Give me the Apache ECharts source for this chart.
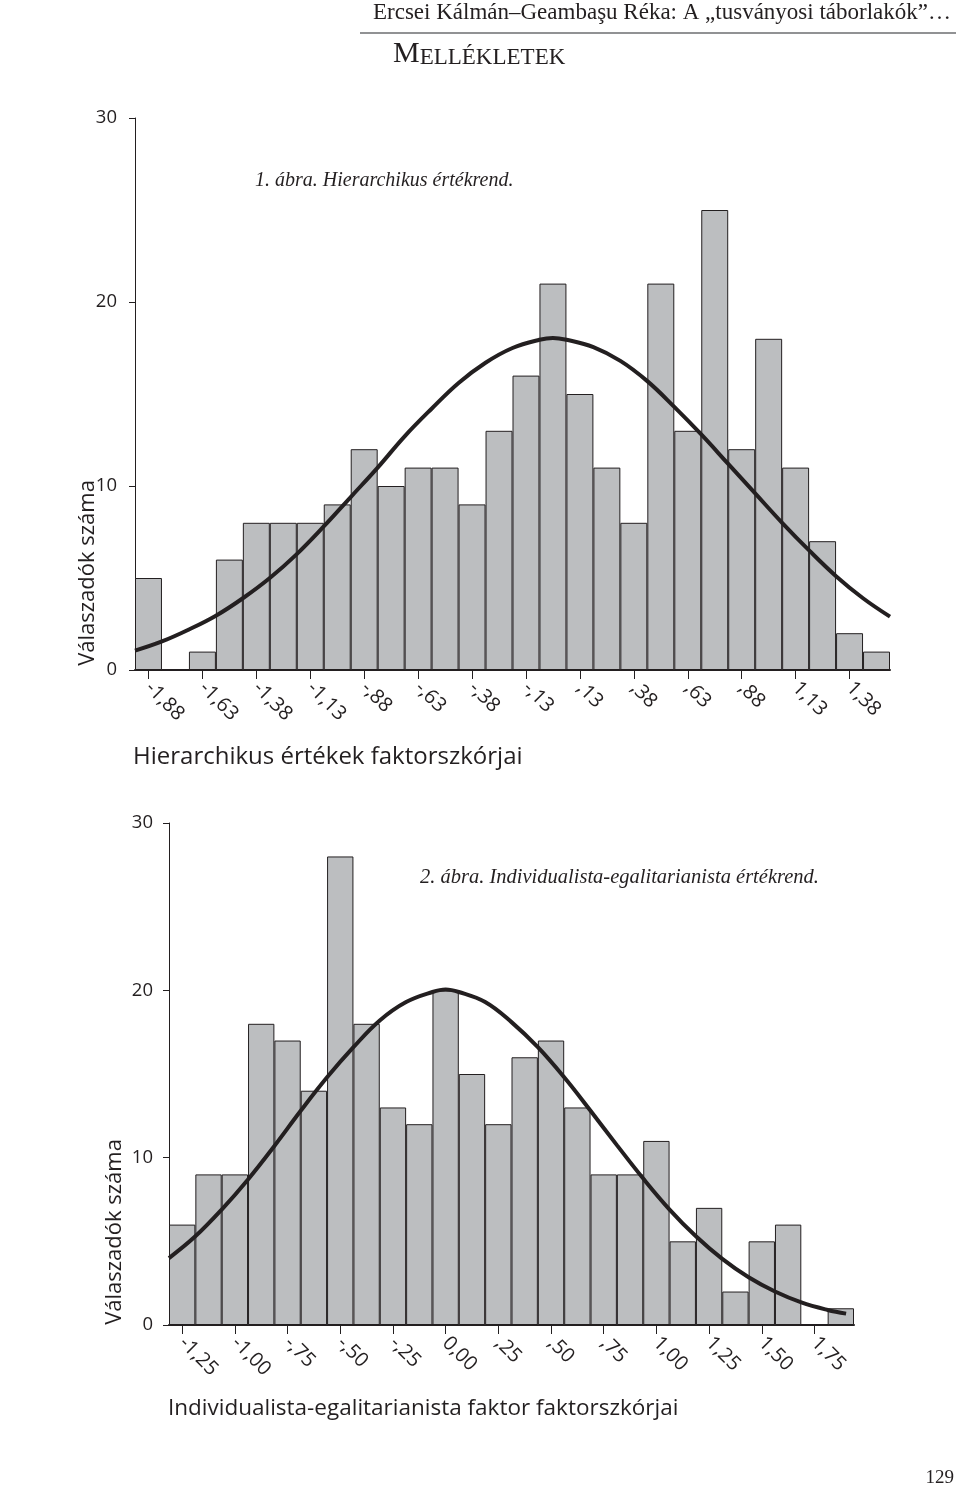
<!DOCTYPE html>
<html><head><meta charset="utf-8">
<script src="https://cdn.jsdelivr.net/npm/echarts@6/dist/echarts.min.js"></script>
<style>html,body{margin:0;padding:0;background:#fff}#c{width:960px;height:1493px}</style>
</head><body><div id="c"></div>
<script>
// ---- Figure 1: Hierarchikus értékrend ----
const hierBins = ['-1,88','-1,75','-1,63','-1,50','-1,38','-1,25','-1,13','-1,00','-,88','-,75','-,63','-,50','-,38','-,25','-,13',',00',',13',',25',',38',',50',',63',',75',',88','1,00','1,13','1,25','1,38','1,50'];
const hierCounts = [5,0,1,6,8,8,8,9,12,10,11,11,9,13,16,21,15,11,8,21,13,25,12,18,11,7,2,1];
const hierCurveX = [-1.9375,-1.8125,-1.6875,-1.5625,-1.4375,-1.3125,-1.1875,-1.0625,-0.9375,-0.8125,-0.6875,-0.5625,-0.4375,-0.3125,-0.1875,-0.0625,0,0.0625,0.1875,0.3125,0.4375,0.5625,0.6875,0.8125,0.9375,1.0625,1.1875,1.3125,1.4375,1.5625];
const hierCurveY = [1.05,1.55,2.2,2.95,3.9,5.0,6.3,7.8,9.4,11.0,12.7,14.2,15.6,16.7,17.5,17.95,18.05,17.95,17.55,16.8,15.7,14.3,12.8,11.2,9.6,8.0,6.5,5.1,3.9,2.9];

// ---- Figure 2: Individualista-egalitarianista értékrend ----
const indivBins = ['-1,25','-1,13','-1,00','-,88','-,75','-,63','-,50','-,38','-,25','-,13','0,00',',13',',25',',38',',50',',63',',75',',88','1,00','1,13','1,25','1,38','1,50','1,63','1,75','1,88'];
const indivCounts = [6,9,9,18,17,14,28,18,13,12,20,15,12,16,17,13,9,9,11,5,7,2,5,6,0,1];
const indivCurveX = [-1.3125,-1.1875,-1.0625,-0.9375,-0.8125,-0.6875,-0.5625,-0.4375,-0.3125,-0.1875,-0.0625,0,0.0625,0.1875,0.3125,0.4375,0.5625,0.6875,0.8125,0.9375,1.0625,1.1875,1.3125,1.4375,1.5625,1.6875,1.8125,1.9];
const indivCurveY = [4.0,5.3,6.9,8.7,10.7,12.8,14.8,16.6,18.2,19.3,19.9,20.05,19.9,19.3,18.1,16.6,14.8,12.8,10.75,8.75,6.9,5.3,3.95,2.85,2.0,1.35,0.9,0.68];

const INK = '#231f20';
const SANS = '"Open Sans", "Noto Sans", sans-serif';
const SERIF = '"Liberation Serif", "DejaVu Serif", serif';

function pairs(xs, ys){ return xs.map((x,i)=>[x, ys[i]]); }

function catAxis(grid, data){
  return {
    gridIndex: grid, type: 'category', data: data, boundaryGap: true,
    axisLine: {show: true, onZero: false, lineStyle: {color: INK, width: 2}},
    axisTick: {show: true, alignWithLabel: true, interval: 1, length: 9, lineStyle: {color: INK, width: 1}},
    axisLabel: {interval: 1, rotate: -45, margin: 15, fontSize: 20, fontFamily: SANS, color: INK},
    splitLine: {show: false}
  };
}
function valX(grid, min, max){
  return {gridIndex: grid, type: 'value', min: min, max: max, show: false,
          axisLine: {show: false, onZero: false}, axisTick: {show: false}, axisLabel: {show: false}, splitLine: {show: false}};
}
function valY(grid, margin){
  return {
    gridIndex: grid, type: 'value', min: 0, max: 30, interval: 10,
    axisLine: {show: true, onZero: false, lineStyle: {color: INK, width: 1}},
    axisTick: {show: true, length: 6, lineStyle: {color: INK, width: 1}},
    axisLabel: {margin: margin, fontSize: 18.5, fontFamily: SANS, color: INK},
    splitLine: {show: false}
  };
}

const option = {
  backgroundColor: '#ffffff',
  animation: false,
  grid: [
    {left: 135, top: 118, width: 755, height: 552},
    {left: 169, top: 823, width: 685, height: 502}
  ],
  xAxis: [
    catAxis(0, hierBins),
    valX(0, -1.9375, 1.5625),
    catAxis(1, indivBins),
    valX(1, -1.3125, 1.9375)
  ],
  yAxis: [ valY(0, 18), valY(1, 16) ],
  series: [
    {type: 'bar', xAxisIndex: 0, yAxisIndex: 0, data: hierCounts, barCategoryGap: 0, barGap: 0,
     itemStyle: {color: '#bcbec0', borderColor: INK, borderWidth: 1}, silent: true},
    {type: 'line', xAxisIndex: 1, yAxisIndex: 0, data: pairs(hierCurveX, hierCurveY), smooth: 0.4,
     showSymbol: false, lineStyle: {color: INK, width: 4}, silent: true, z: 5},
    {type: 'bar', xAxisIndex: 2, yAxisIndex: 1, data: indivCounts, barCategoryGap: 0, barGap: 0,
     itemStyle: {color: '#bcbec0', borderColor: INK, borderWidth: 1}, silent: true},
    {type: 'line', xAxisIndex: 3, yAxisIndex: 1, data: pairs(indivCurveX, indivCurveY), smooth: 0.4,
     showSymbol: false, lineStyle: {color: INK, width: 4}, silent: true, z: 5}
  ],
  graphic: [
    {type: 'text', x: 951, y: 13, style: {text: 'Ercsei Kálmán–Geambaşu Réka: A „tusványosi táborlakók”…', fontSize: 23, fontFamily: SERIF, fill: INK, textAlign: 'right', textVerticalAlign: 'middle'}},
    {type: 'line', shape: {x1: 360, y1: 33, x2: 956, y2: 33}, style: {stroke: '#6d6e71', lineWidth: 1.5}},
    {type: 'text', x: 393, y: 69, style: {text: '{a|M}{b|ELLÉKLETEK}', textVerticalAlign: 'bottom', fill: INK,
      rich: {a: {fontSize: 30, lineHeight: 30, fontFamily: SERIF, fill: INK, verticalAlign: 'bottom'},
             b: {fontSize: 23, lineHeight: 23, fontFamily: SERIF, fill: INK, verticalAlign: 'bottom'}}}},
    {type: 'text', x: 255, y: 181, style: {text: '1. ábra. Hierarchikus értékrend.', fontSize: 20, fontStyle: 'italic', fontFamily: SERIF, fill: INK, textVerticalAlign: 'middle'}},
    {type: 'text', x: 420, y: 878, style: {text: '2. ábra. Individualista-egalitarianista értékrend.', fontSize: 20.5, fontStyle: 'italic', fontFamily: SERIF, fill: INK, textVerticalAlign: 'middle'}},
    {type: 'text', x: 88, y: 573, rotation: Math.PI/2, style: {text: 'Válaszadók száma', fontSize: 22, fontFamily: SANS, fill: INK, textAlign: 'center', textVerticalAlign: 'middle'}},
    {type: 'text', x: 133, y: 757, style: {text: 'Hierarchikus értékek faktorszkórjai', fontSize: 24, fontFamily: SANS, fill: INK, textVerticalAlign: 'middle'}},
    {type: 'text', x: 115, y: 1232, rotation: Math.PI/2, style: {text: 'Válaszadók száma', fontSize: 22, fontFamily: SANS, fill: INK, textAlign: 'center', textVerticalAlign: 'middle'}},
    {type: 'text', x: 168, y: 1409, style: {text: 'Individualista-egalitarianista faktor faktorszkórjai', fontSize: 22.5, fontFamily: SANS, fill: INK, textVerticalAlign: 'middle'}},
    {type: 'text', x: 954, y: 1478, style: {text: '129', fontSize: 19, fontFamily: SERIF, fill: INK, textAlign: 'right', textVerticalAlign: 'middle'}}
  ]
};
const chart = echarts.init(document.getElementById('c'), null, {renderer: 'canvas'});
chart.setOption(option);
</script>
</body></html>
